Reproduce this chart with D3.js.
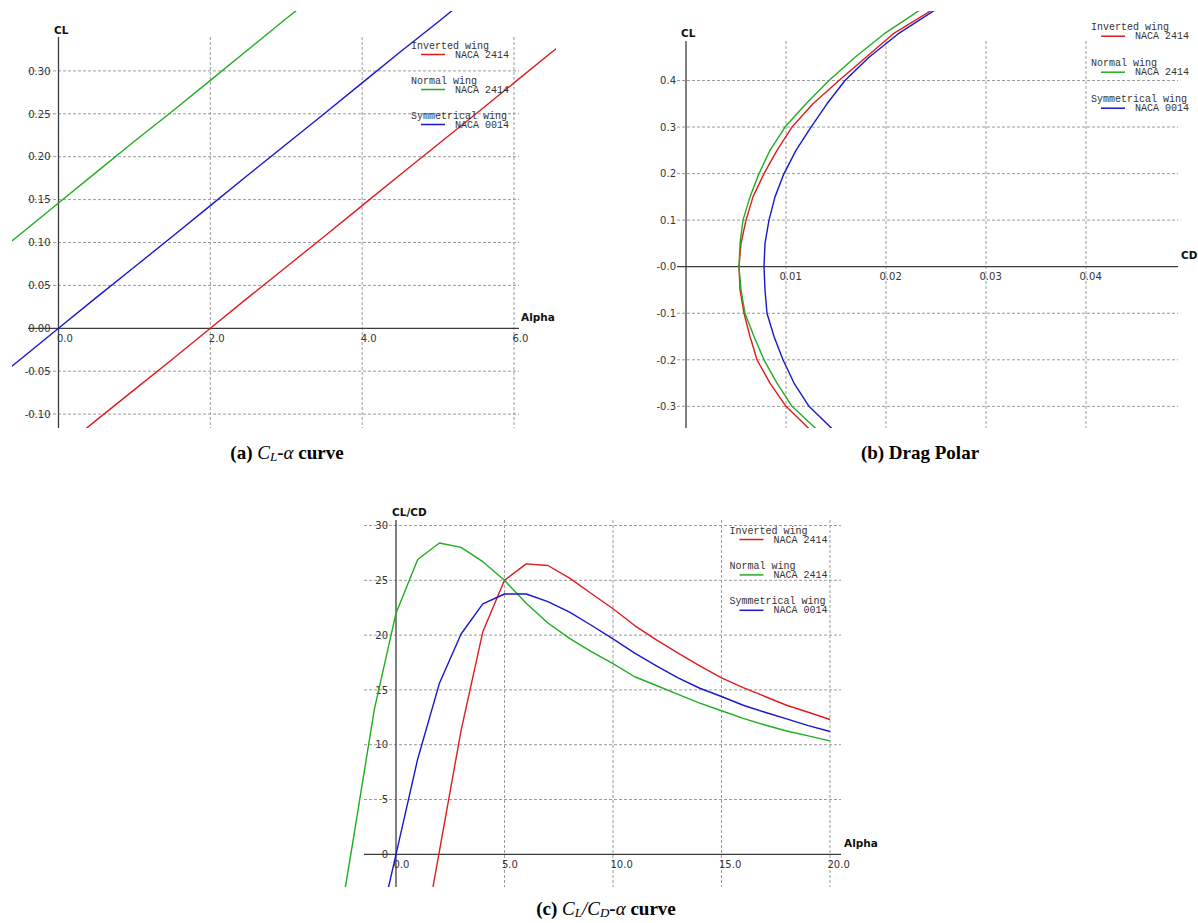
<!DOCTYPE html>
<html>
<head>
<meta charset="utf-8">
<script src="https://cdn.jsdelivr.net/npm/d3@7"></script>
<style>
  html, body { margin: 0; padding: 0; background: #fff; }
  svg { display: block; }
</style>
</head>
<body>
<svg id="fig" width="1198" height="923"></svg>
<script>
// ---------- wings ----------
const wingTitles   = ["Inverted wing", "Normal wing", "Symmetrical wing"];
const wingSections = ["NACA 2414", "NACA 2414", "NACA 0014"];
const wingColors   = ["#e01b1b", "#20ad20", "#1717cf"];

// ---------- (a) lift curve: CL vs alpha ----------
const alphaA      = [-1, -0.5, 0, 0.5, 1, 1.5, 2, 2.5, 3, 3.5, 4, 4.5, 5, 5.5, 6, 6.5, 7];
const clInverted  = [-0.2145, -0.179, -0.143, -0.107, -0.0715, -0.036, 0, 0.036, 0.0715, 0.107, 0.143, 0.179, 0.2145, 0.250, 0.286, 0.322, 0.357];
const clNormal    = [0.074, 0.110, 0.146, 0.182, 0.218, 0.253, 0.289, 0.325, 0.361, 0.396, 0.432, 0.468, 0.504, 0.539, 0.575, 0.611, 0.647];
const clSymmetric = [-0.0715, -0.036, 0, 0.036, 0.0715, 0.107, 0.143, 0.179, 0.2145, 0.250, 0.286, 0.322, 0.357, 0.393, 0.429, 0.465, 0.500];
const ticksAx  = [0, 2, 4, 6];
const labelsAx = ["0.0", "2.0", "4.0", "6.0"];
const ticksAy  = [0.30, 0.25, 0.20, 0.15, 0.10, 0.05, 0, -0.05, -0.10];
const labelsAy = ["0.30", "0.25", "0.20", "0.15", "0.10", "0.05", "0.00", "-0.05", "-0.10"];

// ---------- (b) drag polar: CD vs CL ----------
const polarCL     = [-0.40, -0.35, -0.30, -0.25, -0.20, -0.15, -0.10, -0.05, 0, 0.05, 0.10, 0.15, 0.20, 0.25, 0.30, 0.35, 0.40, 0.45, 0.50, 0.55, 0.60];
const cdInverted  = [0.0150, 0.0124, 0.0100, 0.0084, 0.0071, 0.0064, 0.0058, 0.0054, 0.0053, 0.0055, 0.0060, 0.0067, 0.0078, 0.0091, 0.0106, 0.0127, 0.0153, 0.0180, 0.0207, 0.0245, 0.0284];
const cdNormal    = [0.0158, 0.0131, 0.0106, 0.0091, 0.0078, 0.0068, 0.0059, 0.0055, 0.0053, 0.0054, 0.0057, 0.0064, 0.0073, 0.0084, 0.0099, 0.0120, 0.0143, 0.0169, 0.0198, 0.0233, 0.0270];
const cdSymmetric = [0.0172, 0.0147, 0.0123, 0.0108, 0.0097, 0.0088, 0.0081, 0.0079, 0.0078, 0.0079, 0.0083, 0.0089, 0.0098, 0.0110, 0.0125, 0.0141, 0.0159, 0.0183, 0.0212, 0.0248, 0.0290];
const ticksBx  = [0.01, 0.02, 0.03, 0.04];
const labelsBx = ["0.01", "0.02", "0.03", "0.04"];
const ticksBy  = [0.4, 0.3, 0.2, 0.1, 0, -0.1, -0.2, -0.3];
const labelsBy = ["0.4", "0.3", "0.2", "0.1", "-0.0", "-0.1", "-0.2", "-0.3"];

// ---------- (c) lift-to-drag ratio: CL/CD vs alpha ----------
// null = no value shown at that angle
const alphaC      = [-3, -2, -1, 0, 1, 2, 3, 4, 5, 6, 7, 8, 9, 10, 11, 12, 13, 14, 15, 16, 17, 18, 19, 20];
const ldInverted  = [null, null, null, null, -10.8, 0.3, 11.3, 20.3, 25.0, 26.5, 26.35, 25.2, 23.8, 22.4, 20.87, 19.56, 18.35, 17.2, 16.1, 15.2, 14.4, 13.6, 12.96, 12.3];
const ldNormal    = [-11.0, 1.0, 13.2, 22.0, 26.9, 28.4, 28.0, 26.7, 25.0, 22.9, 21.1, 19.7, 18.5, 17.4, 16.2, 15.4, 14.6, 13.8, 13.1, 12.4, 11.8, 11.25, 10.8, 10.35];
const ldSymmetric = [null, null, -8.7, 0, 8.7, 15.6, 20.1, 22.85, 23.75, 23.75, 23.06, 22.1, 20.9, 19.65, 18.35, 17.2, 16.1, 15.15, 14.4, 13.6, 12.96, 12.35, 11.74, 11.2];
const ticksCx  = [0, 5, 10, 15, 20];
const labelsCx = ["0.0", "5.0", "10.0", "15.0", "20.0"];
const ticksCy  = [30, 25, 20, 15, 10, 5, 0];
const labelsCy = ["30", "25", "20", "15", "10", "5", "0"];

const svg = d3.select("#fig");
const defs = svg.append("defs");

const GRID = "#9b9b9b", AXIS = "#3c3c3c", TXT = "#333";

function drawPanel(P) {
  const g = svg.append("g");
  const x = d3.scaleLinear().domain(P.xDomain).range(P.xRange);
  const y = d3.scaleLinear().domain(P.yDomain).range(P.yRange);
  const ax = x(0), ay = y(0);

  // dashed grid
  g.append("g").selectAll("line").data(P.yTicks.filter(d => d !== 0)).join("line")
    .attr("x1", P.hGrid[0]).attr("x2", P.hGrid[1])
    .attr("y1", d => y(d)).attr("y2", d => y(d))
    .attr("stroke", GRID).attr("stroke-width", 1).attr("stroke-dasharray", "3,2");
  g.append("g").selectAll("line").data(P.xTicks.filter(d => d !== 0)).join("line")
    .attr("x1", d => x(d)).attr("x2", d => x(d))
    .attr("y1", P.vGrid[0]).attr("y2", P.vGrid[1])
    .attr("stroke", GRID).attr("stroke-width", 1).attr("stroke-dasharray", "3,2");

  // axes through the origin
  g.append("line").attr("x1", P.hGrid[0]).attr("x2", P.hGrid[1]).attr("y1", ay).attr("y2", ay)
    .attr("stroke", AXIS).attr("stroke-width", 1.3);
  g.append("line").attr("x1", ax).attr("x2", ax).attr("y1", P.vGrid[0]).attr("y2", P.vGrid[1])
    .attr("stroke", AXIS).attr("stroke-width", 1.3);

  // tick labels
  const yAxis = d3.axisLeft(y).tickValues(P.yTicks)
    .tickFormat((d, i) => P.yLabels[i]).tickSize(0).tickPadding(P.yPad);
  const gy = g.append("g").attr("transform", `translate(${ax},0)`).call(yAxis);
  gy.select(".domain").remove();
  gy.selectAll("text").attr("fill", TXT).attr("font-family", "DejaVu Sans, Verdana, sans-serif").attr("font-size", 10);

  const xAxis = d3.axisBottom(x).tickValues(P.xTicks)
    .tickFormat((d, i) => P.xLabels[i]).tickSize(0).tickPadding(0);
  const gx = g.append("g").attr("transform", `translate(0,${ay})`).call(xAxis);
  gx.select(".domain").remove();
  gx.selectAll("text").attr("fill", TXT).attr("font-family", "DejaVu Sans, Verdana, sans-serif").attr("font-size", 10)
    .attr("text-anchor", "start").attr("x", P.xLabelShift).attr("y", 10).attr("dy", "0.35em");

  // axis titles
  const bold = sel => sel.attr("font-family", "DejaVu Sans, Verdana, sans-serif").attr("font-weight", "bold")
    .attr("font-size", 10.5).attr("fill", "#111").attr("dominant-baseline", "central");
  g.append("text").text(P.yTitle).attr("x", P.yTitlePos[0]).attr("y", P.yTitlePos[1]).call(bold);
  g.append("text").text(P.xTitle).attr("x", P.xTitlePos[0]).attr("y", P.xTitlePos[1]).call(bold);

  // curves
  defs.append("clipPath").attr("id", P.id)
    .append("rect").attr("x", P.clip[0]).attr("y", P.clip[1])
    .attr("width", P.clip[2] - P.clip[0]).attr("height", P.clip[3] - P.clip[1]);
  const line = d3.line().defined(d => d[0] != null && d[1] != null)
    .x(d => x(d[0])).y(d => y(d[1]));
  const cg = g.append("g").attr("clip-path", `url(#${P.id})`);
  P.series.forEach((s, i) => {
    cg.append("path").attr("d", line(s)).attr("fill", "none")
      .attr("stroke", wingColors[i]).attr("stroke-width", 1.4).attr("stroke-linejoin", "round");
  });

  // legend
  const lg = g.append("g").attr("font-family", "Liberation Mono, DejaVu Sans Mono, monospace")
    .attr("font-size", 10).attr("fill", TXT);
  wingTitles.forEach((t, i) => {
    const oy = P.legend.y + i * P.legend.step;
    lg.append("text").text(t).attr("x", P.legend.x).attr("y", oy).attr("dominant-baseline", "central");
    lg.append("line").attr("x1", P.legend.x + 10).attr("x2", P.legend.x + 34)
      .attr("y1", oy + 8.5).attr("y2", oy + 8.5).attr("stroke", wingColors[i]).attr("stroke-width", 1.5);
    lg.append("text").text(wingSections[i]).attr("x", P.legend.x + 44).attr("y", oy + 9)
      .attr("dominant-baseline", "central");
  });
}

const zip = (xs, ys) => xs.map((v, i) => [v, ys[i]]);

drawPanel({
  id: "clipA",
  xDomain: [0, 6], xRange: [58.5, 514],
  yDomain: [0, 0.30], yRange: [328.3, 70.9],
  hGrid: [28, 519], vGrid: [37, 428],
  xTicks: ticksAx, xLabels: labelsAx, yTicks: ticksAy, yLabels: labelsAy,
  yPad: 8, xLabelShift: -2,
  yTitle: "CL", yTitlePos: [54, 30], xTitle: "Alpha", xTitlePos: [521, 317],
  clip: [12, 11, 556, 428],
  series: [zip(alphaA, clInverted), zip(alphaA, clNormal), zip(alphaA, clSymmetric)],
  legend: { x: 411, y: 46, step: 35 }
});

drawPanel({
  id: "clipB",
  xDomain: [0, 0.04], xRange: [686, 1086],
  yDomain: [0, 0.4], yRange: [266.7, 80.5],
  hGrid: [677, 1178], vGrid: [41, 428],
  xTicks: ticksBx, xLabels: labelsBx, yTicks: ticksBy, yLabels: labelsBy,
  yPad: 10, xLabelShift: -7,
  yTitle: "CL", yTitlePos: [681, 33], xTitle: "CD", xTitlePos: [1181, 255],
  clip: [640, 11, 1198, 428],
  series: [zip(cdInverted, polarCL), zip(cdNormal, polarCL), zip(cdSymmetric, polarCL)],
  legend: { x: 1091, y: 27.7, step: 36 }
});

drawPanel({
  id: "clipC",
  xDomain: [0, 20], xRange: [396, 830],
  yDomain: [0, 30], yRange: [854.3, 525.5],
  hGrid: [364, 841], vGrid: [520, 887],
  xTicks: ticksCx, xLabels: labelsCx, yTicks: ticksCy, yLabels: labelsCy,
  yPad: 8, xLabelShift: -3,
  yTitle: "CL/CD", yTitlePos: [392, 512], xTitle: "Alpha", xTitlePos: [844, 843],
  clip: [340, 515, 842, 887],
  series: [zip(alphaC, ldInverted), zip(alphaC, ldNormal), zip(alphaC, ldSymmetric)],
  legend: { x: 729.5, y: 531, step: 35.4 }
});

// ---------- captions ----------
function caption(cx, cy, parts) {
  const t = svg.append("text").attr("x", cx).attr("y", cy).attr("text-anchor", "middle")
    .attr("font-family", "Liberation Serif, Times New Roman, serif").attr("font-size", 19)
    .attr("fill", "#000").attr("dominant-baseline", "central");
  parts.forEach(p => {
    const s = t.append("tspan").text(p.t)
      .attr("font-weight", p.it ? "normal" : "bold")
      .attr("font-style", p.it ? "italic" : "normal");
    if (p.sub) s.attr("font-size", 13).attr("dy", 4);
    if (p.up) s.attr("dy", -4);
  });
}
caption(287, 452, [{ t: "(a) " }, { t: "C", it: 1 }, { t: "L", it: 1, sub: 1 }, { t: "-", up: 1 }, { t: "α", it: 1 }, { t: " curve" }]);
caption(920, 452, [{ t: "(b) Drag Polar" }]);
caption(606, 908, [{ t: "(c) " }, { t: "C", it: 1 }, { t: "L", it: 1, sub: 1 }, { t: "/", it: 1, up: 1 }, { t: "C", it: 1 },
  { t: "D", it: 1, sub: 1 }, { t: "-", up: 1 }, { t: "α", it: 1 }, { t: " curve" }]);
</script>
</body>
</html>
